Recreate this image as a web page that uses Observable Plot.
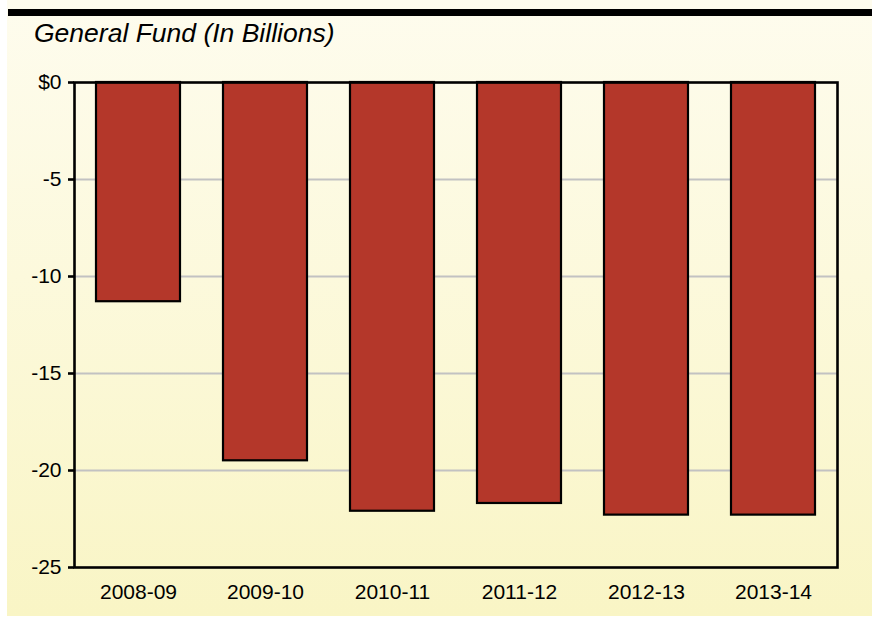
<!DOCTYPE html>
<html>
<head>
<meta charset="utf-8">
<script src="https://cdn.jsdelivr.net/npm/d3@7"></script>
<script src="https://cdn.jsdelivr.net/npm/@observablehq/plot@0.6"></script>
<style>
  html, body { margin: 0; padding: 0; background: #ffffff; }
  body { width: 872px; height: 617px; position: relative; overflow: hidden; font-family: "Liberation Sans", Arial, sans-serif; }
  #panel { position: absolute; left: 7px; top: 0; width: 865px; height: 616px;
           background: linear-gradient(to bottom, #fefcee 0%, #fcf9dc 45%, #f9f5c5 100%); }
  #rule { position: absolute; left: 1px; top: 9px; width: 864px; height: 7px; background: #000; }
  #title { position: absolute; left: 27px; top: 18px; font-size: 26.5px; font-style: italic; color: #000; white-space: nowrap; }
  #chart { position: absolute; left: 0; top: 60px; }
  #chart svg { background: transparent; overflow: visible; }
</style>
</head>
<body>
<div id="panel">
  <div id="rule"></div>
  <div id="title">General Fund (In Billions)</div>
  <div id="chart"></div>
</div>
<script>
const years = ["2008-09", "2009-10", "2010-11", "2011-12", "2012-13", "2013-14"];
const balances = [-11.3, -19.5, -22.1, -21.7, -22.3, -22.3];
const yTicks = [0, -5, -10, -15, -20, -25];
const gridTicks = [-5, -10, -15, -20];

const data = years.map((year, i) => ({year, value: balances[i]}));

const chart = Plot.plot({
  width: 865,
  height: 556,
  marginLeft: 67,
  marginRight: 35,
  marginTop: 22,
  marginBottom: 49,
  style: {background: "transparent", fontFamily: "'Liberation Sans', Arial, sans-serif", fontSize: "21px", color: "#000"},
  x: {domain: years, paddingInner: 0.34, paddingOuter: 0.17, label: null},
  y: {domain: [-25, 0], label: null},
  marks: [
    Plot.ruleY(gridTicks, {stroke: "#c2c2c2", strokeWidth: 2}),
    Plot.barY(data, {x: "year", y1: 0, y2: "value", fill: "#b4372a", stroke: "#000", strokeWidth: 2.2}),
    Plot.frame({stroke: "#000", strokeWidth: 2.6}),
    Plot.axisY({ticks: yTicks, tickFormat: d => d === 0 ? "$0" : String(d), tickSize: 6, tickPadding: 7, strokeWidth: 2.6, fontSize: 21, label: null}),
    Plot.axisX({tickSize: 0, tickPadding: 17, fontSize: 21, label: null})
  ]
});
document.getElementById("chart").appendChild(chart);
</script>
</body>
</html>
